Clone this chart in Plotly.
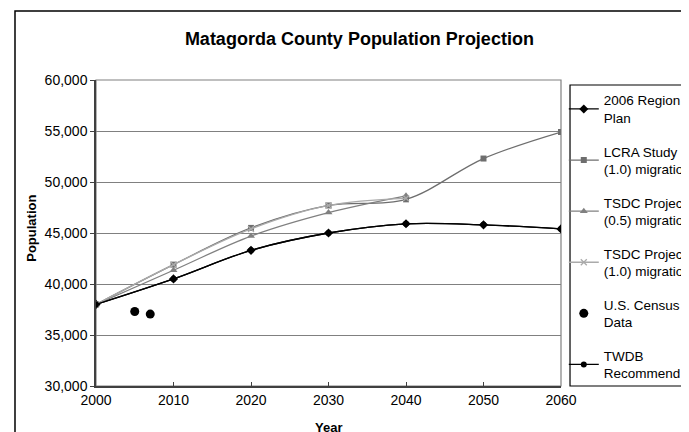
import plotly.graph_objects as go

years = [2000, 2010, 2020, 2030, 2040, 2050, 2060]
years_tsdc = [2000, 2010, 2020, 2030, 2040]
region_k = [38000, 40500, 43300, 45000, 45900, 45800, 45400]
lcra = [38000, 41900, 45500, 47700, 48300, 52300, 54900]
tsdc_05 = [38000, 41350, 44700, 47000, 48650]
tsdc_10 = [38000, 41900, 45400, 47700, 48400]
census_years = [2005, 2007]
census = [37300, 37050]
twdb = [38000, 40500, 43300, 45000, 45900, 45800, 45400]

FONT = "Liberation Sans, Arial, sans-serif"

fig = go.Figure()
fig.add_trace(go.Scatter(x=years, y=region_k, name="2006 Region K<br>Plan", mode="lines+markers",
                         line=dict(color="#000000", width=1.3, shape="spline"),
                         marker=dict(symbol="diamond", size=7, color="#000000"), legendgroup="a"))
fig.add_trace(go.Scatter(x=years, y=lcra, name="LCRA Study<br>(1.0) migration", mode="lines+markers",
                         line=dict(color="#6e6e6e", width=1.3, shape="spline"),
                         marker=dict(symbol="square", size=6, color="#6e6e6e"), legendgroup="b"))
fig.add_trace(go.Scatter(x=years_tsdc, y=tsdc_05, name="TSDC Projection<br>(0.5) migration", mode="lines+markers",
                         line=dict(color="#808080", width=1.3, shape="spline"),
                         marker=dict(symbol="triangle-up", size=7, color="#808080"), legendgroup="c"))
fig.add_trace(go.Scatter(x=years_tsdc, y=tsdc_10, name="TSDC Projection<br>(1.0) migration", mode="lines+markers",
                         line=dict(color="#aaaaaa", width=1.3, shape="spline"),
                         marker=dict(symbol="x-thin", size=6, color="#aaaaaa", line=dict(color="#aaaaaa", width=1.3)),
                         legendgroup="d"))
fig.add_trace(go.Scatter(x=census_years, y=census, name="U.S. Census<br>Data", mode="markers",
                         marker=dict(symbol="circle", size=9, color="#000000"), legendgroup="e"))
fig.add_trace(go.Scatter(x=years, y=twdb, name="TWDB<br>Recommend", mode="lines+markers",
                         line=dict(color="#000000", width=1.3, shape="spline"),
                         marker=dict(symbol="circle", size=6, color="#000000"), legendgroup="f"))

fig.update_layout(
    width=689, height=432,
    margin=dict(l=88, r=136, t=72, b=54, autoexpand=False),
    paper_bgcolor="white", plot_bgcolor="white",
    font=dict(family=FONT, size=13, color="#000000"),
    title=dict(text="<b>Matagorda County Population Projection</b>", x=0.51, xanchor="center",
               y=0.93, yanchor="middle", font=dict(size=18, family=FONT)),
    showlegend=True,
    legend=dict(x=1.006, xanchor="left", y=0.984, yanchor="top",
                borderwidth=0, bgcolor="rgba(0,0,0,0)",
                font=dict(size=13.5, family=FONT), tracegroupgap=13,
                itemwidth=30),
    xaxis=dict(range=[2000, 2060], tickvals=years, ticks="inside", ticklen=4,
               tickcolor="#404040", showgrid=False, zeroline=False,
               showline=True, linecolor="#404040", linewidth=1.5, mirror=False,
               tickfont=dict(size=14)),
    yaxis=dict(range=[30000, 60000], tickvals=[30000, 35000, 40000, 45000, 50000, 55000, 60000],
               tickformat=",d", ticks="outside", ticklen=4, tickcolor="#404040",
               showgrid=True, gridcolor="#808080", gridwidth=1.2, zeroline=False,
               showline=True, linecolor="#404040", linewidth=1.5, tickfont=dict(size=14)),
    shapes=[
        dict(type="rect", xref="paper", yref="paper", x0=0, x1=1, y0=0, y1=1,
             line=dict(color="#808080", width=1.2), layer="below"),
        dict(type="rect", xref="paper", yref="paper", x0=-0.1742, x1=1.4, y0=-0.3, y1=1.2255,
             line=dict(color="#000000", width=1.5)),
        dict(type="rect", xref="paper", yref="paper", x0=1.0194, x1=1.4, y0=0.0, y1=0.9837,
             line=dict(color="#000000", width=1.2), layer="below"),
    ],
    annotations=[
        dict(text="<b>Population</b>", xref="paper", yref="paper", x=-0.139, y=0.515,
             textangle=-90, showarrow=False, font=dict(size=13, family=FONT),
             xanchor="center", yanchor="middle"),
        dict(text="<b>Year</b>", xref="paper", yref="paper", x=0.5, y=-0.137,
             showarrow=False, font=dict(size=13, family=FONT), xanchor="center", yanchor="middle"),
    ],
)

fig.write_html("out.html")
